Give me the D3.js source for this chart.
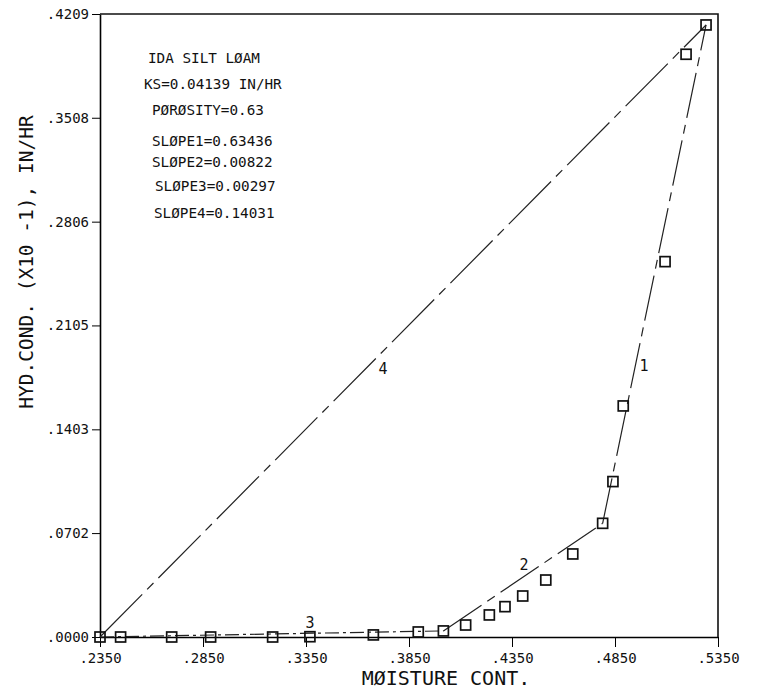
<!DOCTYPE html>
<html lang="en">
<head>
<meta charset="utf-8">
<title>Hydraulic conductivity</title>
<script src="https://d3js.org/d3.v7.min.js"></script>
<style>
  body { margin: 0; background: #fff; }
  text { font-family: "DejaVu Sans Mono", monospace; fill: #111; }
  .frame { fill: none; stroke: #111; stroke-width: 1.6; }
  .fit { fill: none; stroke: #222; stroke-width: 1.2; }
  .pt { fill: none; stroke: #111; stroke-width: 1.7; }
</style>
</head>
<body>
<script>
// measured points (moisture content, hyd. cond. x10^-1 in/hr)
var moisture = [0.2350, 0.2450, 0.2698, 0.2887, 0.3188, 0.3369, 0.3677, 0.3895, 0.4017,
                0.4125, 0.4240, 0.4316, 0.4402, 0.4514, 0.4645, 0.4790, 0.4840, 0.4890,
                0.5093, 0.5195, 0.5292];
var conduct  = [0.0000, 0.0000, 0.0000, 0.0000, 0.0000, 0.0002, 0.0014, 0.0034, 0.0041,
                0.0081, 0.0149, 0.0205, 0.0277, 0.0385, 0.0561, 0.0768, 0.1050, 0.1561,
                0.2536, 0.3937, 0.4135];

// fitted straight segments 1..4
var fitIds    = ["1", "2", "3", "4"];
var fitStartX = [0.4790, 0.4017, 0.2350, 0.2350];
var fitStartY = [0.0768, 0.0041, 0.0000, 0.0000];
var fitEndX   = [0.5292, 0.4790, 0.4017, 0.5292];
var fitEndY   = [0.4135, 0.0768, 0.0041, 0.4135];
var fitLabelX = [0.4991, 0.4408, 0.3369, 0.3724];
var fitLabelY = [0.1830, 0.0486, 0.0095, 0.1811];

var xTicks = [0.2350, 0.2850, 0.3350, 0.3850, 0.4350, 0.4850, 0.5350];
var yTicks = [0.0000, 0.0702, 0.1403, 0.2105, 0.2806, 0.3508, 0.4209];

var notes = ["IDA SILT L\u00d8AM", "KS=0.04139 IN/HR", "P\u00d8R\u00d8SITY=0.63",
             "SL\u00d8PE1=0.63436", "SL\u00d8PE2=0.00822", "SL\u00d8PE3=0.00297", "SL\u00d8PE4=0.14031"];

var width = 759, height = 694;
var plotL = 100, plotR = 718, plotT = 14, plotB = 637;

var x = d3.scaleLinear().domain([0.2350, 0.5350]).range([plotL, plotR]);
var y = d3.scaleLinear().domain([0, 0.4209]).range([plotB, plotT]);

var svg = d3.select("body").append("svg")
    .attr("width", width)
    .attr("height", height);

var fmt = function(d) { return d3.format(".4f")(d).replace(/^0/, ""); };

// axes
var xAxis = d3.axisBottom(x).tickValues(xTicks).tickSize(10).tickSizeOuter(0).tickFormat(fmt);
var gx = svg.append("g").attr("transform", "translate(0," + plotB + ")").call(xAxis);
gx.select(".domain").attr("stroke-width", 1.6);
gx.selectAll("text").attr("font-size", 14).attr("dy", "0.9em");

var yAxis = d3.axisLeft(y).tickValues(yTicks).tickSize(8).tickSizeOuter(0).tickFormat(fmt);
var gy = svg.append("g").attr("transform", "translate(" + plotL + ",0)").call(yAxis);
gy.select(".domain").attr("stroke-width", 1.6);
gy.selectAll("text").attr("font-size", 14).attr("x", -11);

// top and right border
svg.append("path").attr("class", "frame")
    .attr("d", "M" + plotL + "," + plotT + "H" + plotR + "V" + plotB);

// fitted lines
var fits = fitIds.map(function(id, i) {
    return {id: id, x1: fitStartX[i], y1: fitStartY[i], x2: fitEndX[i], y2: fitEndY[i],
            lx: fitLabelX[i], ly: fitLabelY[i]};
});
var dashes = {"1": "46,7,9,7", "2": "46,7,9,7", "3": "14,4,3,4", "4": "60,7,9,7"};

svg.selectAll("line.fit").data(fits).enter().append("line")
    .attr("class", "fit")
    .attr("x1", function(d) { return x(d.x1); })
    .attr("y1", function(d) { return y(d.y1); })
    .attr("x2", function(d) { return x(d.x2); })
    .attr("y2", function(d) { return y(d.y2); })
    .attr("stroke-dasharray", function(d) { return dashes[d.id]; });

svg.selectAll("text.fitlab").data(fits).enter().append("text")
    .attr("class", "fitlab")
    .attr("x", function(d) { return x(d.lx); })
    .attr("y", function(d) { return y(d.ly); })
    .attr("text-anchor", "middle")
    .attr("dy", "0.35em")
    .attr("font-size", 15)
    .text(function(d) { return d.id; });

// data squares
var pts = moisture.map(function(m, i) { return [m, conduct[i]]; });
svg.selectAll("rect.pt").data(pts).enter().append("rect")
    .attr("class", "pt")
    .attr("x", function(d) { return x(d[0]) - 5; })
    .attr("y", function(d) { return y(d[1]) - 5; })
    .attr("width", 10)
    .attr("height", 10);

// note block
svg.selectAll("text.note").data(notes).enter().append("text")
    .attr("class", "note")
    .attr("x", function(d, i) { return [148, 144, 152, 152, 152, 155, 154][i]; })
    .attr("y", function(d, i) { return [58, 84, 110, 141, 162, 186, 213][i]; })
    .attr("dy", "0.35em")
    .attr("font-size", 14.3)
    .text(function(d) { return d; });

// axis titles
svg.append("text")
    .attr("x", 446).attr("y", 678)
    .attr("text-anchor", "middle").attr("dy", "0.35em")
    .attr("font-size", 20)
    .text("M\u00d8ISTURE CONT.");

svg.append("text")
    .attr("transform", "translate(26,262) rotate(-90)")
    .attr("text-anchor", "middle").attr("dy", "0.35em")
    .attr("font-size", 19.5)
    .text("HYD.COND.  (X10 -1), IN/HR");
</script>
</body>
</html>
